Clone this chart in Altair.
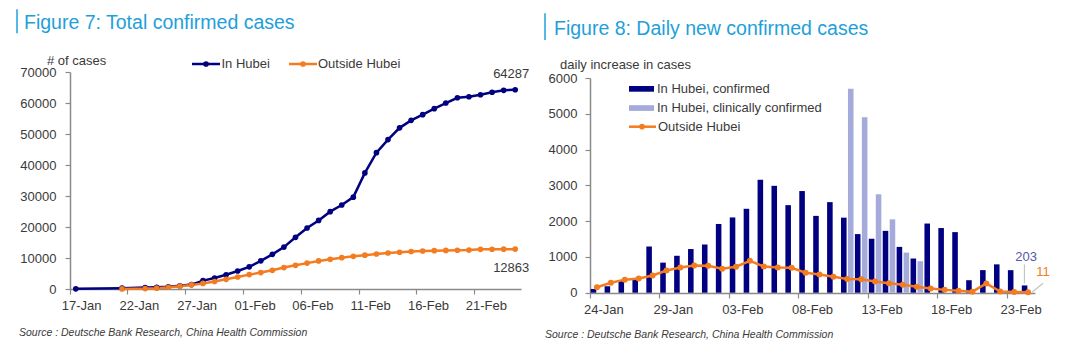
import altair as alt
import pandas as pd

NAVY = "#000080"
ORANGE = "#f47c20"
LIGHT = "#a4aad9"
TITLE_BLUE = "#1ea0da"
AXIS_GRAY = "#8a8a8a"
TEXT = "#3a3a3a"
LEADER = "#c4c4c4"
FONT = "Liberation Sans"

# ---------------- Figure 7: total confirmed cases ----------------
left_dates = [d.strftime("%d-%b") for d in pd.date_range("2020-01-17", "2020-02-24")]
left_ticks = ["17-Jan", "22-Jan", "27-Jan", "01-Feb", "06-Feb", "11-Feb", "16-Feb", "21-Feb"]
left_y_ticks = [0, 10000, 20000, 30000, 40000, 50000, 60000, 70000]
hubei_total = [62, None, None, None, 270, None, 444, 549, 729, 1052, 1423, 2714, 3554,
               4586, 5806, 7153, 9074, 11177, 13522, 16678, 19665, 22112, 24953, 27100,
               29631, 37440, 43980, 48206, 51986, 54406, 56249, 58182, 59989, 61682,
               62031, 62662, 63454, 64084, 64287]
outside_total = [None, None, None, None, 21, None, 123, 277, 554, 919, 1317, 1797, 2416,
                 3121, 3883, 4638, 5306, 6028, 6916, 7646, 8353, 9049, 9593, 10098,
                 10540, 10910, 11287, 11598, 11865, 12086, 12251, 12366, 12447, 12503,
                 12545, 12803, 12834, 12852, 12863]
left_series = ["In Hubei", "Outside Hubei"]

# ---------------- Figure 8: daily new confirmed cases ----------------
right_dates = [d.strftime("%d-%b") for d in pd.date_range("2020-01-24", "2020-02-24")]
right_ticks = ["24-Jan", "29-Jan", "03-Feb", "08-Feb", "13-Feb", "18-Feb", "23-Feb"]
right_y_ticks = [0, 1000, 2000, 3000, 4000, 5000, 6000]
hubei_new = [105, 180, 323, 371, 1291, 840, 1032, 1220, 1347, 1921, 2103, 2345, 3156,
             2987, 2447, 2841, 2147, 2531, 2097, 1638, 1508, 1728, 1280, 955, 1933, 1807,
             1693, 349, 631, 792, 630, 203]
hubei_clinical = [None, None, None, None, None, None, None, None, None, None, None, None,
                  None, None, None, None, None, None, 5700, 4900, 2750, 2050, 1120, 880,
                  None, None, None, None, None, None, None, None]
outside_new = [154, 277, 365, 398, 480, 619, 705, 762, 755, 669, 726, 890, 731, 707, 696,
               558, 509, 444, 381, 377, 312, 267, 221, 166, 115, 79, 56, 30, 258, 31, 18, 11]
bar_series = ["In Hubei, confirmed", "In Hubei, clinically confirmed"]

# ---------------- tables ----------------
rows = []
for s, vals in zip(left_series, [hubei_total, outside_total]):
    for i, (d, v) in enumerate(zip(left_dates, vals)):
        if v is not None:
            rows.append({"date": d, "i": i, "series": s, "value": v})
left_df = pd.DataFrame(rows)

rows = []
for s, vals in zip(bar_series, [hubei_new, hubei_clinical]):
    for i, (d, v) in enumerate(zip(right_dates, vals)):
        if v is not None:
            rows.append({"date": d, "i": i, "series": s, "value": v})
bars_df = pd.DataFrame(rows)
out_df = pd.DataFrame({"date": right_dates, "i": list(range(len(right_dates))),
                       "value": outside_new})

LW, LH = 451, 217
RW, RH = 445, 221

axis_common = dict(grid=False, domainColor=AXIS_GRAY, domainWidth=1.5, tickColor=AXIS_GRAY,
                   tickWidth=1.2, tickSize=5, labelFont=FONT, labelFontSize=13,
                   labelColor=TEXT, titleFont=FONT, titleFontSize=13, titleColor=TEXT,
                   titleFontWeight="normal")


def txt(s, x, y, size=13, color=TEXT, align="left", baseline="middle", style="normal"):
    return alt.Chart(pd.DataFrame({"t": [s]})).mark_text(
        align=align, baseline=baseline, fontSize=size, color=color, fontStyle=style,
        font=FONT).encode(x=alt.value(x), y=alt.value(y), text="t:N")


def vbar(x, y1, y2, color=TITLE_BLUE, width=1.5):
    return alt.Chart(pd.DataFrame({"t": [0]})).mark_rule(color=color, strokeWidth=width).encode(
        x=alt.value(x), y=alt.value(y1), y2=alt.value(y2))


def hline(x1, x2, y, color, width=2.5):
    return alt.Chart(pd.DataFrame({"t": [0]})).mark_rule(color=color, strokeWidth=width).encode(
        x=alt.value(x1), x2=alt.value(x2), y=alt.value(y))


def dot(x, y, color, size=32):
    return alt.Chart(pd.DataFrame({"t": [0]})).mark_circle(color=color, size=size, opacity=1).encode(
        x=alt.value(x), y=alt.value(y))


def swatch(x1, x2, y1, y2, color):
    return alt.Chart(pd.DataFrame({"t": [0]})).mark_rect(color=color).encode(
        x=alt.value(x1), x2=alt.value(x2), y=alt.value(y1), y2=alt.value(y2))


# ---------------- left panel ----------------
x_left = alt.X("date:N", bandPosition=0.5,
               scale=alt.Scale(type="band", domain=left_dates, paddingInner=0, paddingOuter=0),
               axis=alt.Axis(values=left_ticks, bandPosition=0, labelOffset=5.8, title=None,
                             labelAngle=0, labelPadding=5, **axis_common))
y_left = alt.Y("value:Q", scale=alt.Scale(domain=[0, 70000], nice=False),
               axis=alt.Axis(values=left_y_ticks, format="d", title="# of cases",
                             titleAngle=0, titleX=6, titleY=-8, titleAlign="center",
                             titleBaseline="alphabetic", labelPadding=9, **axis_common))
color_left = alt.Color("series:N", scale=alt.Scale(domain=left_series, range=[NAVY, ORANGE]),
                       legend=None)

base_left = alt.Chart(left_df)
l_line = base_left.mark_line(strokeWidth=2.5).encode(
    x=x_left, y=y_left, color=color_left, order=alt.Order("i:Q"))
l_pts = base_left.mark_circle(size=32, opacity=1).encode(x=x_left, y=y_left, color=color_left)
l_lab1 = base_left.transform_filter(
    (alt.datum.date == "24-Feb") & (alt.datum.series == "In Hubei")).mark_text(
    dx=-4, dy=-15.5, fontSize=13, color=TEXT, font=FONT).encode(
    x=x_left, y=y_left, text=alt.Text("value:Q", format="d"))
l_lab2 = base_left.transform_filter(
    (alt.datum.date == "24-Feb") & (alt.datum.series == "Outside Hubei")).mark_text(
    dx=-4, dy=18.5, fontSize=13, color=TEXT, font=FONT).encode(
    x=x_left, y=y_left, text=alt.Text("value:Q", format="d"))

left = alt.layer(
    l_line, l_pts, l_lab1, l_lab2,
    vbar(-53, -62.7, -38.7),
    txt("Figure 7: Total confirmed cases", -46, -42.7, size=19.5, color=TITLE_BLUE,
        baseline="alphabetic"),
    hline(122, 150, -8, NAVY), dot(136, -8, NAVY),
    txt("In Hubei", 151.5, -8),
    hline(219, 247, -8, ORANGE), dot(233, -8, ORANGE),
    txt("Outside Hubei", 248, -8),
    txt("Source : Deutsche Bank Research, China Health Commission", -51, 264, size=10.5,
        style="italic", baseline="alphabetic"),
).properties(width=LW, height=LH)

# ---------------- right panel ----------------
right_scale = alt.Scale(type="band", domain=right_dates, paddingInner=0, paddingOuter=0)
right_axis = alt.Axis(values=right_ticks, bandPosition=0, labelOffset=6.95, title=None,
                      labelAngle=0, labelPadding=5, **axis_common)
x_right_bar = alt.X("date:N", scale=right_scale, axis=right_axis)
x_right = alt.X("date:N", bandPosition=0.5, scale=right_scale, axis=right_axis)
y_right = alt.Y("value:Q", scale=alt.Scale(domain=[0, 6000], range=[220.7, 6], nice=False),
                axis=alt.Axis(values=right_y_ticks, format="d", title="daily increase in cases",
                              titleAngle=0, titleX=35, titleY=-3.5, titleAlign="center",
                              titleBaseline="alphabetic", labelPadding=8, **axis_common))

r_bars = alt.Chart(bars_df).mark_bar().encode(
    x=x_right_bar, y=y_right,
    xOffset=alt.XOffset("series:N", scale=alt.Scale(domain=bar_series, paddingInner=0.2,
                                                    paddingOuter=0.1)),
    color=alt.Color("series:N", scale=alt.Scale(domain=bar_series, range=[NAVY, LIGHT]),
                    legend=None))
base_out = alt.Chart(out_df)
r_line = base_out.mark_line(color=ORANGE, strokeWidth=2.5).encode(
    x=x_right, y=y_right, order=alt.Order("i:Q"))
r_pts = base_out.mark_circle(color=ORANGE, size=36, opacity=1).encode(x=x_right, y=y_right)

last_bar = alt.Chart(bars_df).transform_filter(
    (alt.datum.date == "24-Feb") & (alt.datum.series == "In Hubei, confirmed"))
r_lead1 = last_bar.mark_rule(color=LEADER, strokeWidth=1.2, xOffset=-3.6, yOffset=-2,
                             y2Offset=-21).encode(x=x_right, y=y_right, y2=alt.Y2("value:Q"))
r_lab1 = last_bar.mark_text(dx=-2, dy=-28, fontSize=13, color="#5558a8", font=FONT).encode(
    x=x_right, y=y_right, text=alt.Text("value:Q", format="d"))
last_out = base_out.transform_filter(alt.datum.date == "24-Feb")
r_lead2 = last_out.mark_rule(color=LEADER, strokeWidth=1.2, xOffset=4, x2Offset=15,
                             y2Offset=-9).encode(
    x=x_right, x2=alt.X2("date:N", bandPosition=0.5), y=y_right, y2=alt.Y2("value:Q"))
r_lab2 = last_out.mark_text(dx=15, dy=-20, fontSize=13, color=ORANGE, font=FONT).encode(
    x=x_right, y=y_right, text=alt.Text("value:Q", format="d"))

right = alt.layer(
    r_bars, r_line, r_pts, r_lead1, r_lab1, r_lead2, r_lab2,
    vbar(-45, -58.7, -32),
    txt("Figure 8: Daily new confirmed cases", -36, -37, size=19.5, color=TITLE_BLUE,
        baseline="alphabetic"),
    swatch(39, 64, 14, 19.7, NAVY), txt("In Hubei, confirmed", 67, 16.5),
    swatch(39, 64, 33.2, 38.9, LIGHT), txt("In Hubei, clinically confirmed", 67, 35.8),
    hline(39, 66, 54.7, ORANGE), dot(52, 54.7, ORANGE),
    txt("Outside Hubei", 68, 54.7),
    txt("Source : Deutsche Bank Research, China Health Commission", -45, 266, size=10.5,
        style="italic", baseline="alphabetic"),
).properties(width=RW, height=RH)

chart = alt.hconcat(left, right, spacing=69, bounds="flush").resolve_scale(
    color="independent"
).properties(
    autosize=alt.AutoSizeParams(type="none"),
    padding={"left": 70, "top": 72, "right": 1012, "bottom": 285},
    background="white",
).configure_view(strokeWidth=0)

chart.save("out.html", embed_options={"renderer": "svg", "actions": False})
